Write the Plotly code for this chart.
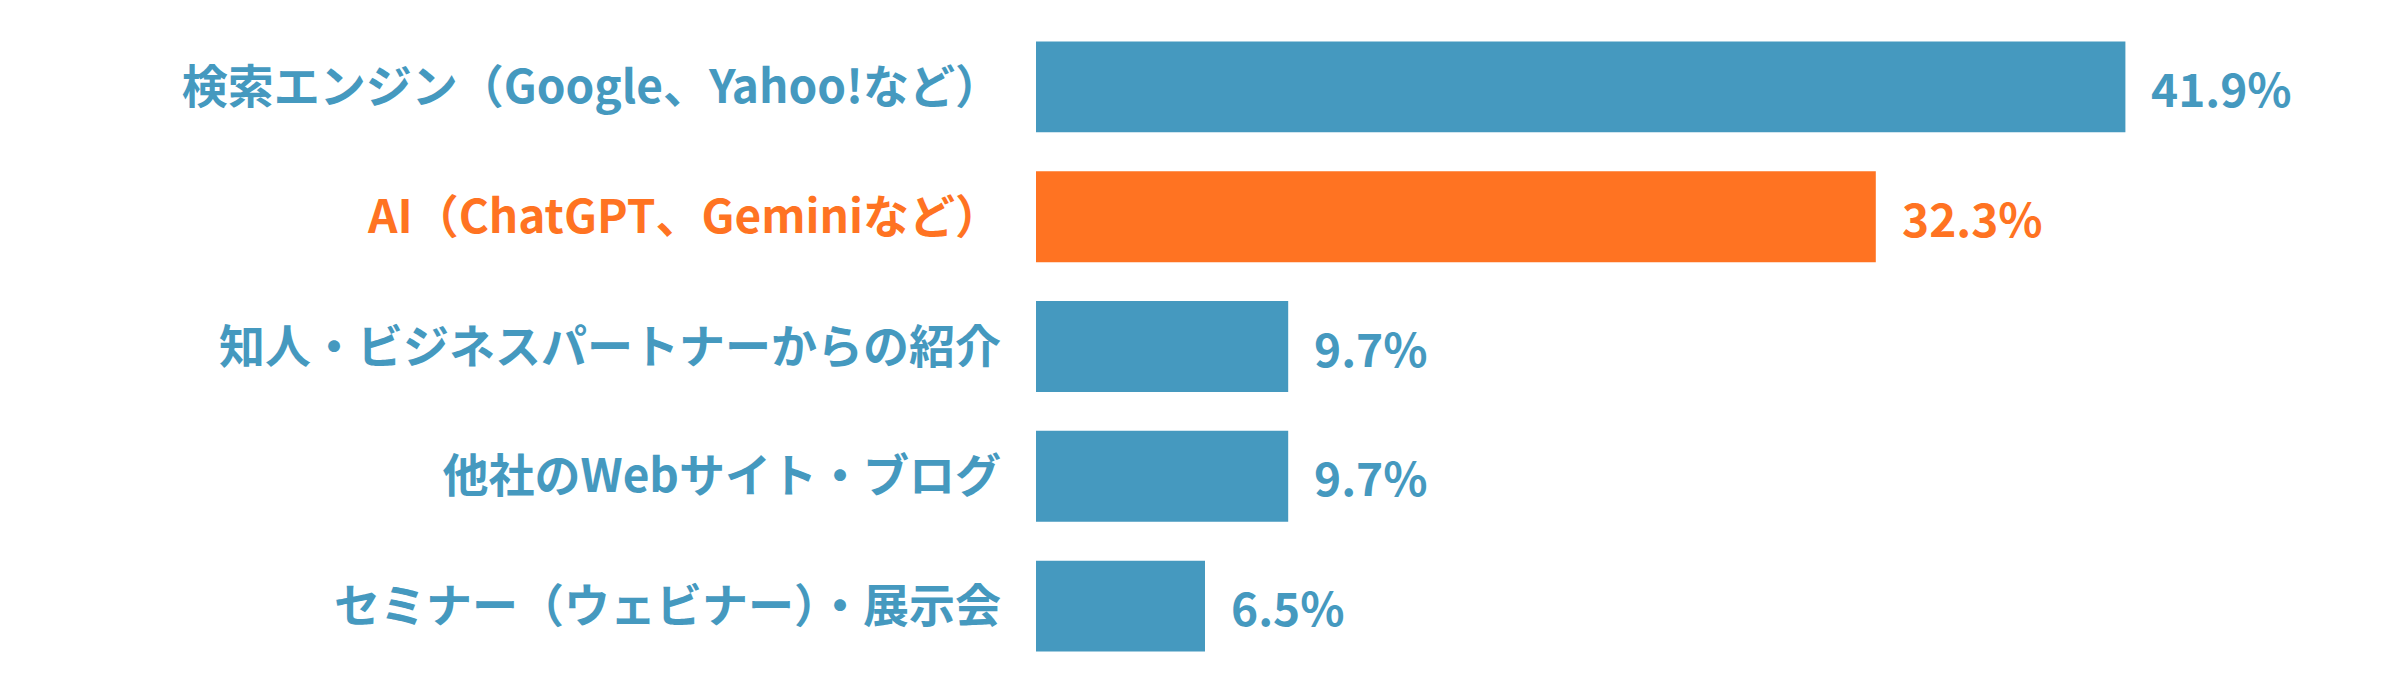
import plotly.graph_objects as go

categories = [
    "検索エンジン（Google、Yahoo!など）",
    "AI（ChatGPT、Geminiなど）",
    "知人・ビジネスパートナーからの紹介",
    "他社のWebサイト・ブログ",
    "セミナー（ウェビナー）・展示会",
]
values = [41.9, 32.3, 9.7, 9.7, 6.5]
highlight = "AI（ChatGPT、Geminiなど）"

BLUE = "#4599BF"
ORANGE = "#FF7322"
FONT = "Noto Sans CJK JP"
colors = [ORANGE if c == highlight else BLUE for c in categories]

# coloured tick labels, one per category
ticktext = [f'<span style="color:{col}">{c}</span>' for c, col in zip(categories, colors)]

fig = go.Figure(go.Bar(
    x=values, y=categories, orientation="h",
    marker=dict(color=colors, line=dict(width=0)),
    width=0.7,
    hoverinfo="skip",
))

# value labels a little to the right of each bar end
for c, v, col in zip(categories, values, colors):
    fig.add_annotation(
        x=v, y=c, text=f"{v}%", showarrow=False,
        xanchor="left", xshift=24,
        font=dict(size=46, family=FONT, weight="bold", color=col),
    )

fig.update_layout(
    width=2400, height=700,
    margin=dict(l=1028, r=72, t=14, b=37),
    plot_bgcolor="white", paper_bgcolor="white",
    showlegend=False,
    font=dict(family=FONT),
)
fig.update_xaxes(range=[0, 50], visible=False)
fig.update_yaxes(
    autorange="reversed",
    tickmode="array", tickvals=categories, ticktext=ticktext,
    tickfont=dict(size=46, family=FONT, weight="bold", color=BLUE),
    ticks="", ticklabelstandoff=34, showgrid=False, showline=False, zeroline=False,
)

fig.write_html("out.html")
